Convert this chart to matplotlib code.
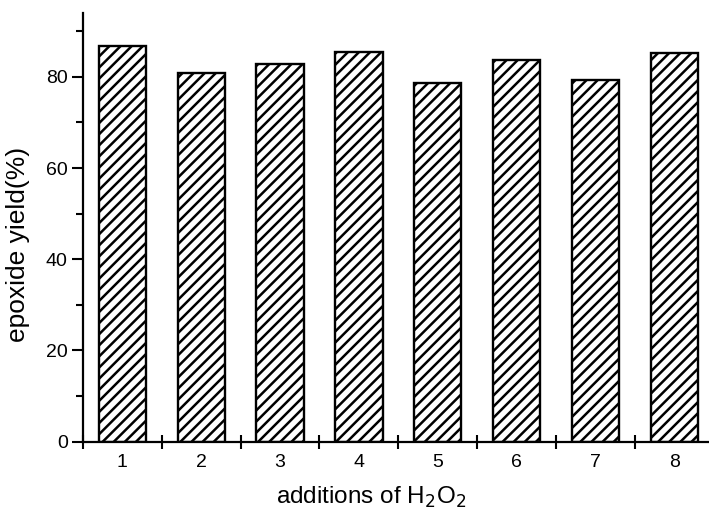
import matplotlib
matplotlib.use("Agg")
import matplotlib.pyplot as plt
from matplotlib.ticker import MultipleLocator, FixedLocator

plt.rcParams['font.family'] = ['Liberation Sans', 'DejaVu Sans']
plt.rcParams['hatch.linewidth'] = 1.8

additions = [1, 2, 3, 4, 5, 6, 7, 8]
tick_labels = ['1', '2', '3', '4', '5', '6', '7', '8']
yield_pct = [86.8, 80.8, 82.8, 85.5, 78.6, 83.6, 79.4, 85.3]

fig = plt.figure(figsize=(7.09, 5.22), dpi=100)
ax = fig.add_axes([0.117, 0.154, 0.883, 0.821])

ax.bar(additions, yield_pct, width=0.6, color='white', edgecolor='black',
       linewidth=1.7, hatch='///')

ax.set_xlim(0.5, 8.44)
ax.set_ylim(0, 94)

for s in ['top', 'right']:
    ax.spines[s].set_visible(False)
for s in ['left', 'bottom']:
    ax.spines[s].set_linewidth(1.6)

# y axis: major every 20, minor every 10
ax.yaxis.set_major_locator(MultipleLocator(20))
ax.yaxis.set_minor_locator(MultipleLocator(10))
ax.tick_params(axis='y', which='major', direction='out', length=8, width=1.5,
               labelsize=14, pad=3)
ax.tick_params(axis='y', which='minor', direction='out', length=5, width=1.5)

# x axis: crossing ticks between bars, labels under bar centres
ax.xaxis.set_major_locator(FixedLocator([a - 0.5 for a in additions]))
ax.xaxis.set_major_formatter(plt.NullFormatter())
ax.set_xticks(additions, tick_labels, minor=True)
ax.tick_params(axis='x', which='major', direction='inout', length=10, width=1.5)
ax.tick_params(axis='x', which='minor', length=0, labelsize=14, pad=9)

ax.set_ylabel('epoxide yield(%)', fontsize=19)
ax.yaxis.set_label_coords(-0.085, 0.461)
ax.set_xlabel('additions of H$_2$O$_2$', fontsize=17.5)
ax.xaxis.set_label_coords(0.46, -0.101)

fig.savefig('out.png', dpi=100)
